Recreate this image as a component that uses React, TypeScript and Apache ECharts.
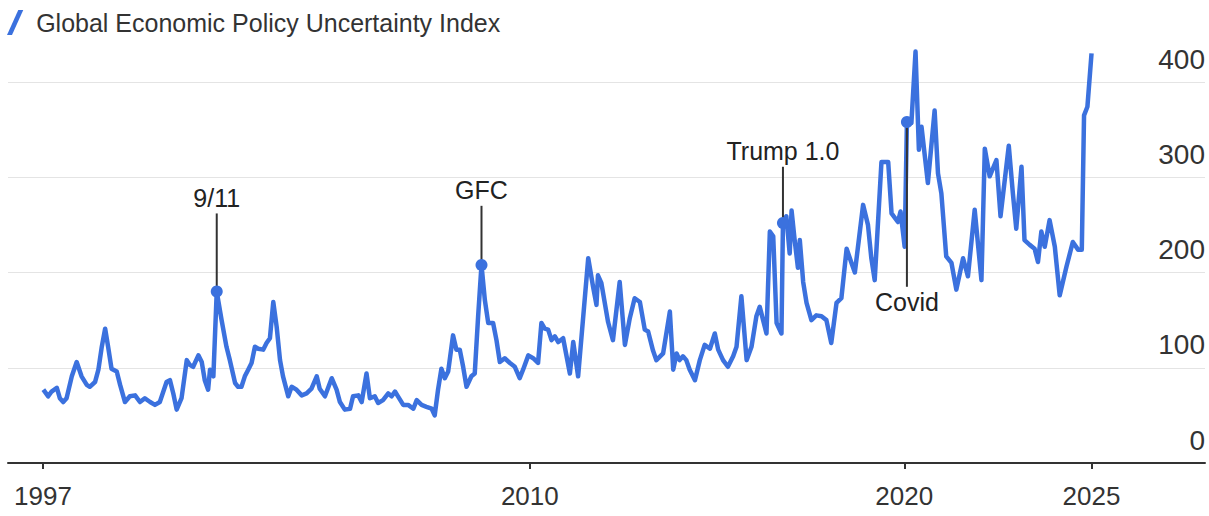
import React, { useEffect, useRef } from "react";
import * as echarts from "echarts";

const seriesName = "Global Economic Policy Uncertainty Index";

// decimal year of each reading
const years = [
  1997.01, 1997.14, 1997.23, 1997.37, 1997.45, 1997.54, 1997.63, 1997.77, 1997.9,
  1998.03, 1998.17, 1998.25, 1998.39, 1998.48, 1998.57, 1998.66, 1998.74, 1998.83, 1998.97,
  1999.06, 1999.19, 1999.32, 1999.46, 1999.59, 1999.72, 1999.86, 1999.99,
  2000.12, 2000.3, 2000.39, 2000.48, 2000.57, 2000.7, 2000.84, 2000.92,
  2001.01, 2001.15, 2001.24, 2001.32, 2001.41, 2001.46, 2001.55, 2001.64, 2001.77, 2001.9, 2001.99,
  2002.13, 2002.21, 2002.3, 2002.39, 2002.48, 2002.57, 2002.66, 2002.75, 2002.88, 2002.97,
  2003.06, 2003.15, 2003.24, 2003.33, 2003.41, 2003.55, 2003.64, 2003.77, 2003.91,
  2004.04, 2004.17, 2004.31, 2004.39, 2004.53, 2004.71, 2004.84, 2004.93,
  2005.06, 2005.2, 2005.28, 2005.42, 2005.51, 2005.64, 2005.73, 2005.86, 2005.95,
  2006.08, 2006.22, 2006.31, 2006.4, 2006.48, 2006.62, 2006.75, 2006.89, 2006.98,
  2007.11, 2007.24, 2007.38, 2007.46, 2007.55, 2007.64, 2007.73, 2007.82, 2007.95,
  2008.04, 2008.13, 2008.22, 2008.31, 2008.44, 2008.53, 2008.62, 2008.71, 2008.8, 2008.89,
  2009.02, 2009.11, 2009.2, 2009.33, 2009.47, 2009.6, 2009.73, 2009.82, 2009.96,
  2010.09, 2010.22, 2010.31, 2010.4, 2010.49, 2010.58, 2010.67, 2010.76, 2010.89,
  2011.07, 2011.16, 2011.29, 2011.56, 2011.69, 2011.78, 2011.82, 2011.91,
  2012.09, 2012.22, 2012.4, 2012.54, 2012.67, 2012.8, 2012.94,
  2013.07, 2013.16, 2013.29, 2013.38, 2013.56, 2013.74, 2013.83, 2013.92,
  2014.0, 2014.09, 2014.18, 2014.27, 2014.41, 2014.54, 2014.67, 2014.81, 2014.94,
  2015.03, 2015.16, 2015.29, 2015.43, 2015.52, 2015.65, 2015.79, 2015.92,
  2016.05, 2016.14, 2016.23, 2016.32, 2016.41, 2016.5, 2016.59, 2016.72, 2016.76, 2016.85, 2016.94, 2016.99,
  2017.07, 2017.16, 2017.21, 2017.3, 2017.39, 2017.52, 2017.65, 2017.79, 2017.92,
  2018.05, 2018.19, 2018.32, 2018.46, 2018.59, 2018.68, 2018.9,
  2019.03, 2019.12, 2019.21, 2019.39, 2019.57, 2019.66, 2019.83, 2019.9,
  2020.01, 2020.07, 2020.19, 2020.3, 2020.39, 2020.46, 2020.63, 2020.81, 2020.9, 2020.99,
  2021.12, 2021.26, 2021.39, 2021.57, 2021.7, 2021.88,
  2022.06, 2022.15, 2022.28, 2022.46, 2022.57, 2022.79, 2022.9, 2022.99,
  2023.13, 2023.21, 2023.35, 2023.48, 2023.57, 2023.66, 2023.75, 2023.88,
  2024.02, 2024.15, 2024.33, 2024.5, 2024.64, 2024.74, 2024.8, 2024.89, 2025.0,
];

// index values
const values = [
  77, 70, 75, 79, 68, 64, 68, 91, 106,
  91, 82, 80, 85, 98, 122, 141, 122, 99, 96,
  82, 64, 70, 71, 64, 68, 64, 61,
  64, 85, 87, 73, 56, 68, 108, 103,
  101, 113, 106, 87, 77, 98, 91, 180, 150, 122, 108,
  84, 80, 80, 91, 98, 105, 122, 120, 119, 126,
  131, 169, 143, 108, 91, 70, 80, 77, 71,
  73, 78, 91, 78, 70, 89, 77, 64,
  56, 57, 70, 71, 64, 94, 68, 70, 63,
  66, 73, 70, 75, 70, 61, 61, 57, 66,
  61, 59, 57, 50, 77, 99, 89, 96, 134,
  119, 119, 101, 80, 91, 94, 154, 208, 171, 147,
  147, 129, 106, 110, 105, 101, 89, 98, 113,
  110, 105, 147, 141, 140, 129, 133, 127, 131,
  94, 127, 91, 215, 185, 166, 197, 189,
  148, 129, 190, 124, 152, 173, 169,
  140, 138, 118, 108, 115, 159, 98, 115,
  108, 112, 108, 98, 87, 108, 124, 120, 136,
  119, 108, 101, 112, 122, 175, 108, 122,
  154, 164, 150, 136, 243, 238, 147, 136, 252, 259, 220, 265,
  235, 205, 234, 190, 168, 150, 155, 154, 150,
  126, 168, 173, 225, 210, 200, 271,
  250, 215, 192, 316, 316, 262, 253, 264,
  227, 358, 357, 432, 329, 353, 294, 370, 304, 283,
  217, 210, 182, 215, 196, 266,
  192, 330, 301, 318, 259, 333, 283, 246,
  311, 234, 229, 225, 211, 243, 227, 255,
  227, 176, 206, 232, 224, 224, 365, 374, 430,
];

const xTickYears = [1997, 2010, 2020, 2025];
const yTickStep = 100;

const eventNames = ["9/11", "GFC", "Trump 1.0", "Covid"];
const eventYears = [2001.64, 2008.71, 2016.76, 2020.07];
const eventValues = [180, 208, 252, 358];
const eventLabelValues = [262, 270, 311, 185];

const BLUE = "#3b71de";
const INK = "#333333";
const FONT = "'Liberation Sans', Arial, Helvetica, sans-serif";

export default function App() {
  const ref = useRef<HTMLDivElement>(null);

  useEffect(() => {
    if (!ref.current) return;
    const chart = echarts.init(ref.current, null, { renderer: "svg" });

    const option: any = {
      animation: false,
      backgroundColor: "#ffffff",
      textStyle: { fontFamily: FONT },
      legend: {
        left: 7,
        top: 10,
        padding: 0,
        itemWidth: 18,
        itemHeight: 25,
        selectedMode: false,
        data: [
          {
            name: seriesName,
            icon: "path://M0,20 L9,0 L13,0 L4,20 Z",
          },
        ],
        textStyle: {
          fontSize: 25,
          color: INK,
          fontFamily: FONT,
          padding: [0, 0, 0, 7],
        },
      },
      grid: { left: 8, right: 4, top: 82, bottom: 53, containLabel: false },
      xAxis: {
        type: "value",
        min: 1996.066,
        max: 2028.03,
        splitLine: { show: false },
        axisLine: { show: true, lineStyle: { color: INK, width: 2 } },
        axisTick: {
          show: true,
          customValues: xTickYears,
          length: 6,
          lineStyle: { color: INK, width: 2 },
        },
        axisLabel: {
          customValues: xTickYears,
          formatter: (v: number) => String(Math.round(v)),
          margin: 20,
          fontSize: 26,
          color: INK,
          fontFamily: FONT,
        },
      },
      yAxis: {
        type: "value",
        position: "right",
        min: 0,
        max: 400,
        interval: yTickStep,
        axisLine: { show: false },
        axisTick: { show: false },
        splitLine: { show: true, lineStyle: { color: "#e4e4e4", width: 1 } },
        axisLabel: {
          inside: true,
          margin: 0,
          verticalAlign: "bottom",
          padding: [0, 0, 9, 0],
          fontSize: 28,
          color: INK,
          fontFamily: FONT,
        },
      },
      series: [
        {
          name: seriesName,
          type: "line",
          data: years.map((y, i) => [y, values[i]]),
          showSymbol: false,
          symbol: "none",
          clip: false,
          lineStyle: { color: BLUE, width: 4.5, join: "round" },
          itemStyle: { color: BLUE },
          z: 2,
        },
        {
          name: "events",
          type: "custom",
          clip: false,
          z: 3,
          encode: { x: 0, y: 1 },
          data: eventYears.map((y, i) => [y, eventValues[i], eventLabelValues[i]]),
          renderItem: (params: any, api: any) => {
            const x = api.value(0);
            const v = api.value(1);
            const lv = api.value(2);
            const p = api.coord([x, v]);
            const q = api.coord([x, lv]);
            const above = lv > v;
            return {
              type: "group",
              children: [
                {
                  type: "line",
                  shape: { x1: p[0], y1: p[1], x2: q[0], y2: q[1] },
                  style: { stroke: INK, lineWidth: 2 },
                },
                {
                  type: "circle",
                  shape: { cx: p[0], cy: p[1], r: 6 },
                  style: { fill: BLUE },
                },
                {
                  type: "text",
                  x: q[0],
                  y: q[1] + (above ? -3 : 3),
                  style: {
                    text: eventNames[params.dataIndex],
                    fill: "#222222",
                    fontSize: 25,
                    fontFamily: FONT,
                    align: "center",
                    verticalAlign: above ? "bottom" : "top",
                  },
                },
              ],
            };
          },
        },
      ],
    };

    chart.setOption(option);
    return () => chart.dispose();
  }, []);

  return (
    <div
      ref={ref}
      style={{
        position: "fixed",
        left: 0,
        top: 0,
        width: 1209,
        height: 516,
        background: "#ffffff",
      }}
    />
  );
}
